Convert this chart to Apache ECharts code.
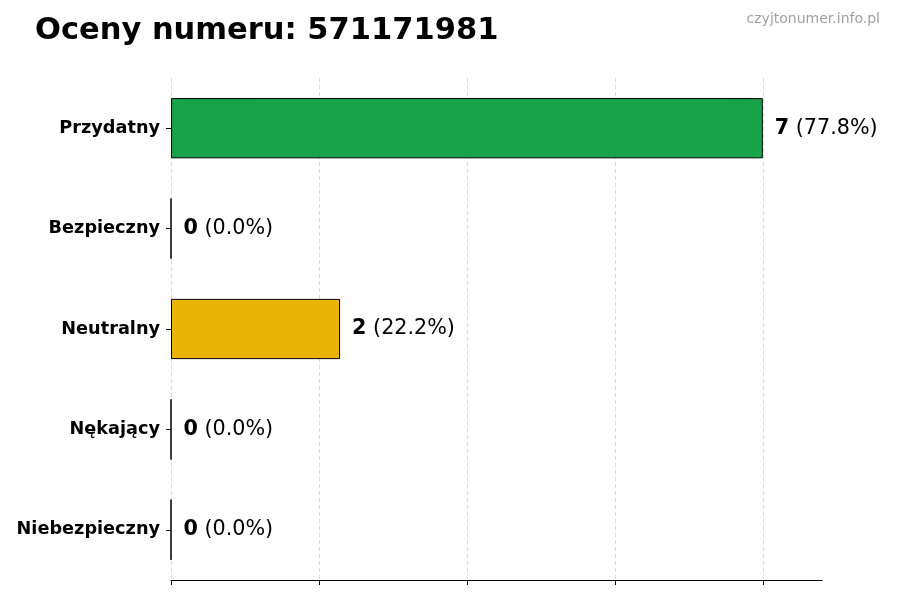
<!DOCTYPE html>
<html>
<head>
<meta charset="utf-8">
<script src="https://cdn.jsdelivr.net/npm/echarts@6/dist/echarts.min.js"></script>
<style>
html,body{margin:0;padding:0;background:#fff;}
#chart{width:900px;height:600px;}
</style>
</head>
<body>
<div id="chart"></div>
<script>
var titleText = 'Oceny numeru: 571171981';
var watermark = 'czyjtonumer.info.pl';
var categories = ['Przydatny', 'Bezpieczny', 'Neutralny', 'Nękający', 'Niebezpieczny'];
var counts = [7, 0, 2, 0, 0];
var barColors = ['#18a34a', '#18a34a', '#eab308', '#dc2626', '#dc2626'];
var xTicks = [0, 1.75, 3.5, 5.25, 7];
var xMax = 7.7;

var total = counts.reduce(function (a, b) { return a + b; }, 0);
var FONT = 'DejaVu Sans';

var chart = echarts.init(document.getElementById('chart'));
chart.setOption({
  animation: false,
  backgroundColor: '#ffffff',
  title: [
    {
      text: titleText,
      left: 30, top: 11,
      textStyle: { fontFamily: FONT, fontSize: 30.5, fontWeight: 'bold', color: '#000' }
    },
    {
      text: watermark,
      right: 15, top: 7,
      textStyle: { fontFamily: FONT, fontSize: 14, fontWeight: 'normal', color: '#a0a0a0' }
    }
  ],
  grid: { left: 171, right: 78, top: 78, bottom: 20, containLabel: false },
  xAxis: {
    type: 'value',
    min: 0, max: xMax, interval: 1.75,
    axisLine: { show: true, lineStyle: { color: '#000', width: 1.2 } },
    axisTick: { show: true, length: 5, inside: false, customValues: xTicks, lineStyle: { color: '#000', width: 1 } },
    axisLabel: { show: false },
    splitLine: { show: true, lineStyle: { color: '#d0d0d0', type: [4, 3], width: 0.8 } }
  },
  yAxis: {
    type: 'category',
    data: categories,
    inverse: true,
    axisLine: { show: false },
    axisTick: { show: true, alignWithLabel: true, length: 5, lineStyle: { color: '#000' } },
    axisLabel: { fontFamily: FONT, fontSize: 17.7, fontWeight: 'bold', color: '#000', margin: 11 },
    splitLine: { show: false }
  },
  series: [{
    type: 'bar',
    barWidth: '60%',
    data: counts.map(function (v, i) {
      return { value: v, itemStyle: { color: barColors[i] } };
    }),
    itemStyle: { borderColor: '#000', borderWidth: 1 },
    label: {
      show: true,
      position: 'right',
      distance: 12,
      fontFamily: FONT,
      fontSize: 20.7,
      color: '#000',
      formatter: function (p) {
        var pct = total ? (p.value / total * 100).toFixed(1) : '0.0';
        return '{b|' + p.value + '} (' + pct + '%)';
      },
      rich: {
        b: { fontFamily: FONT, fontSize: 20.7, fontWeight: 'bold', color: '#000' }
      }
    }
  }]
});
</script>
</body>
</html>
